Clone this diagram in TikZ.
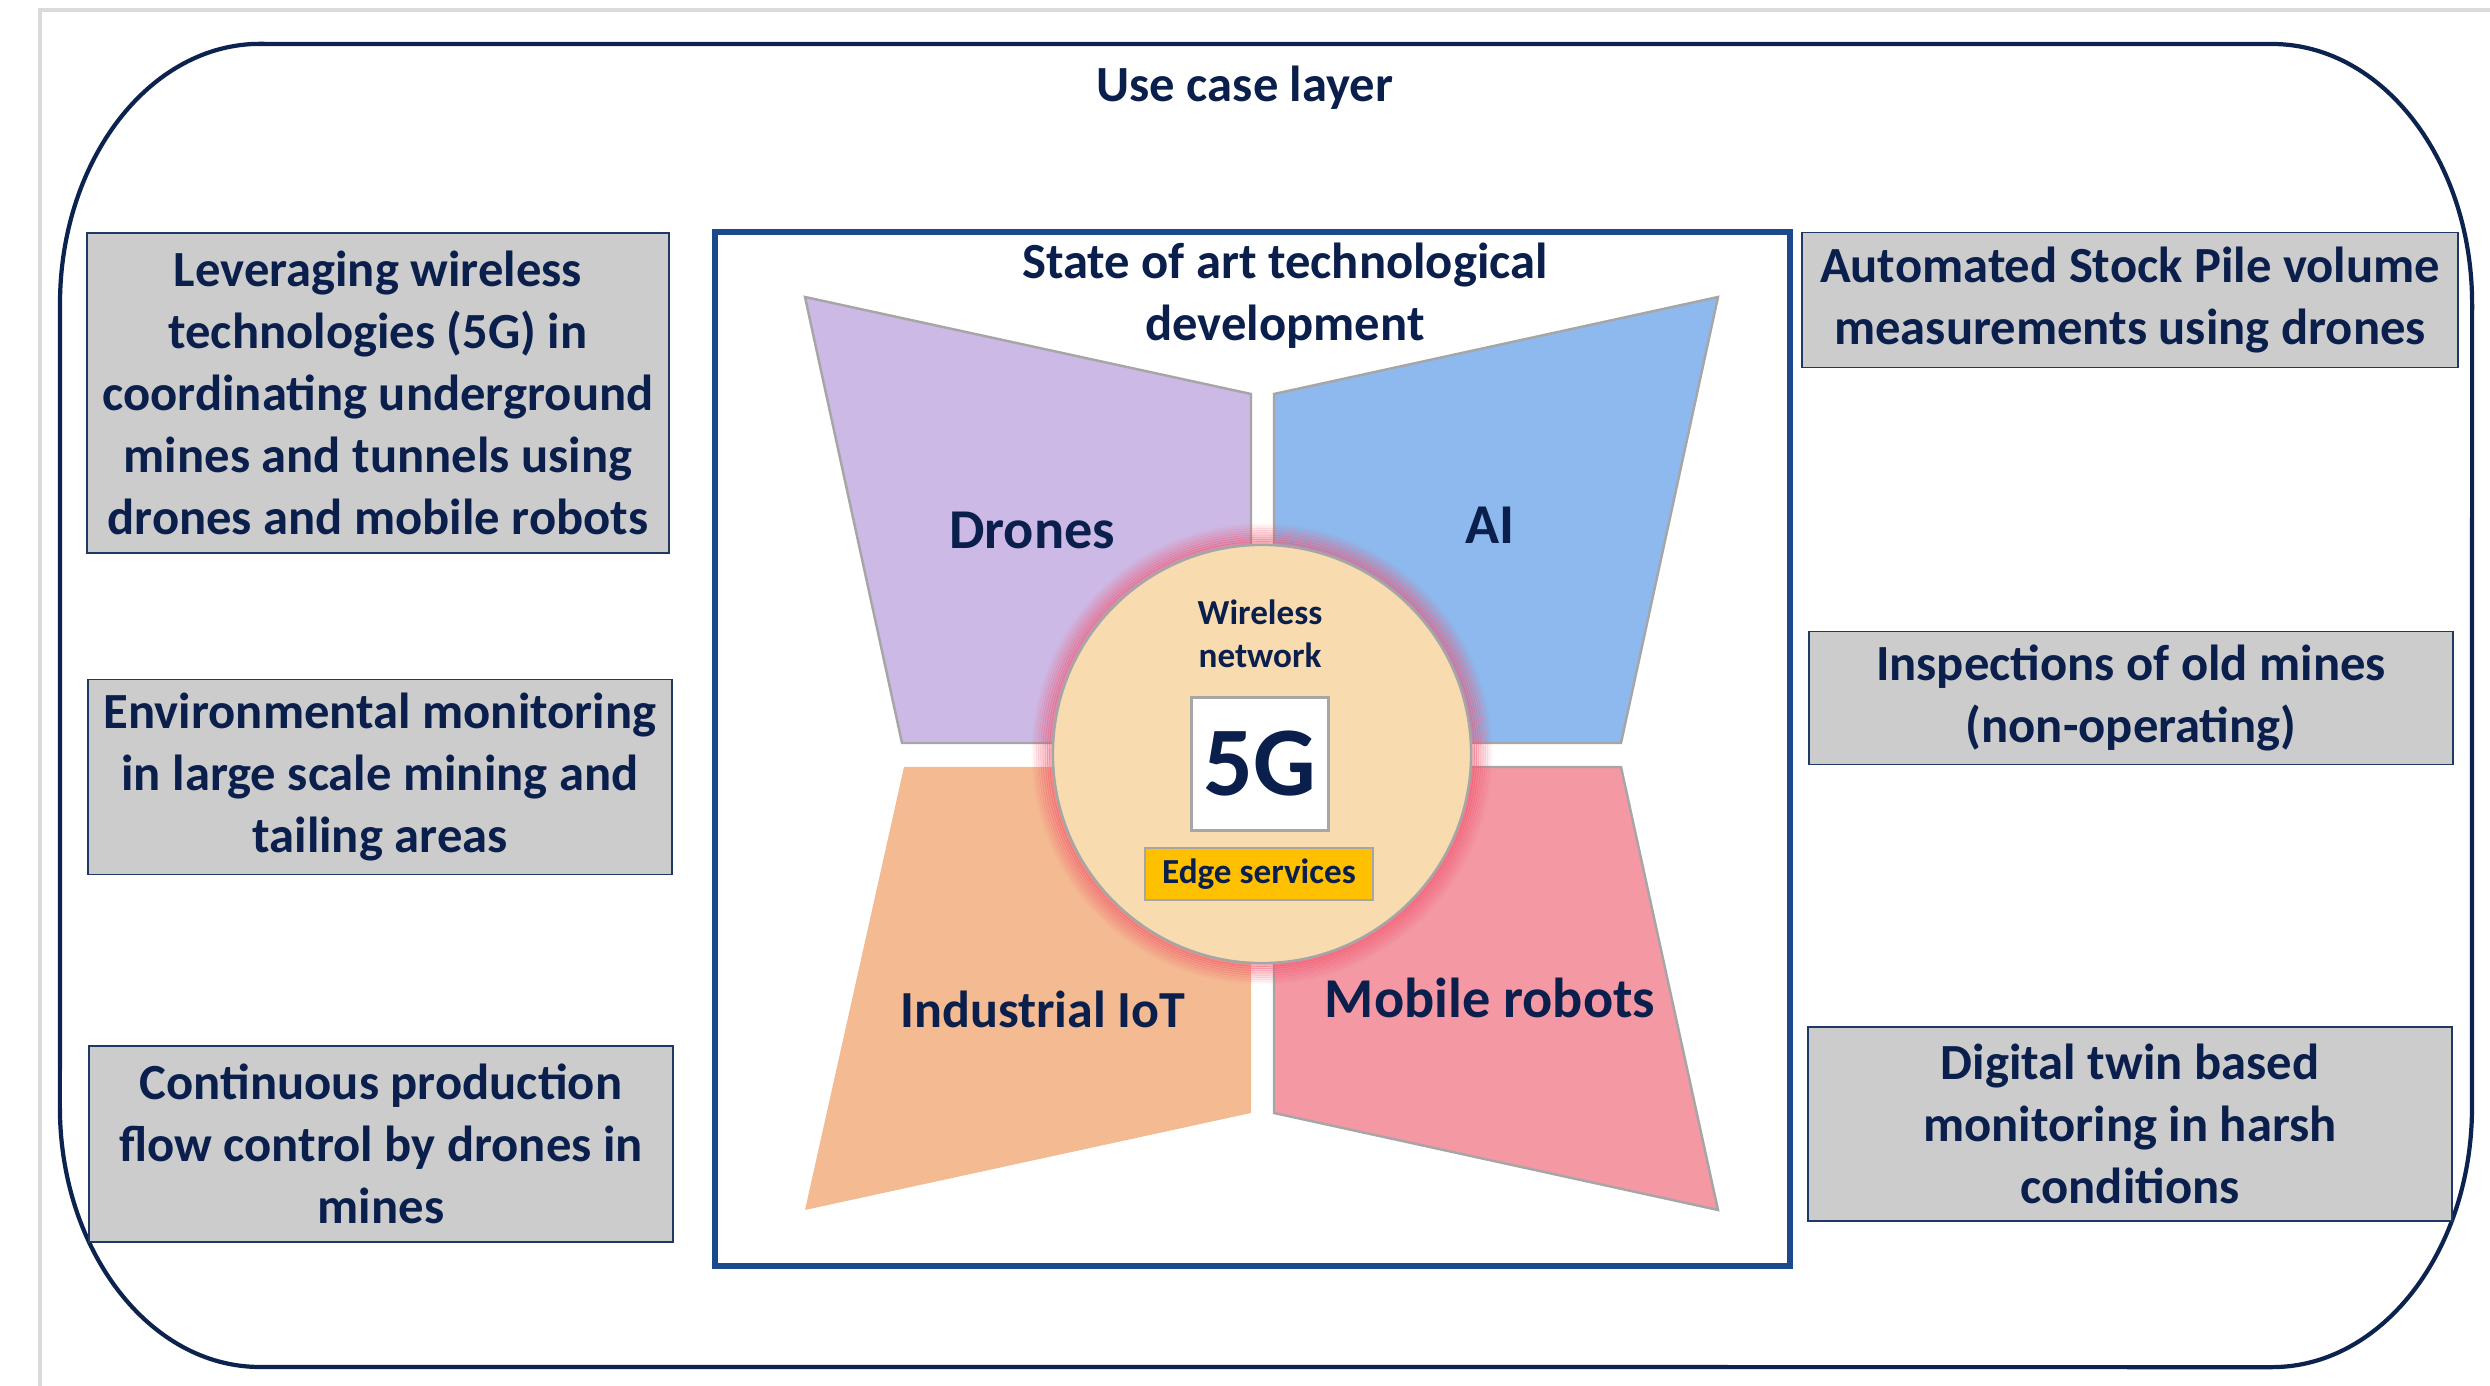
\documentclass[tikz,border=0pt]{standalone}
\usepackage{fontspec}
\setmainfont{Carlito}

\definecolor{txtnavy}{HTML}{0B1F4D}
\definecolor{layernavy}{HTML}{0C2350}
\definecolor{frameblue}{HTML}{1B4A8C}
\definecolor{boxline}{HTML}{1F3864}
\definecolor{boxgray}{HTML}{CCCCCC}
\definecolor{pagegray}{HTML}{DADADA}
\definecolor{secline}{HTML}{A6A6A6}
\definecolor{dronepurple}{HTML}{CDB9E5}
\definecolor{aiblue}{HTML}{8DB9EE}
\definecolor{iotorange}{HTML}{F4BA92}
\definecolor{robotpink}{HTML}{F498A4}
\definecolor{netpeach}{HTML}{F8DCB0}
\definecolor{edgeyellow}{HTML}{FFC000}
\definecolor{glowred}{HTML}{F2506A}

\begin{document}
\begin{tikzpicture}[x=0.01cm,y=-0.01cm]

\tikzset{%
    usecase/.style={draw=boxline,line width=0.5pt,fill=boxgray,text=txtnavy,align=center,inner sep=0pt,
        font=\bfseries\fontsize{14.4}{17.6}\selectfont},
    heading/.style={text=txtnavy,align=center,font=\bfseries\fontsize{14.4}{17.6}\selectfont},
    sector/.style={draw=secline,line width=0.7pt},
    seclabel/.style={text=txtnavy,font=\bfseries\fontsize{16}{19}\selectfont},
    netlabel/.style={text=txtnavy,align=center,font=\bfseries\fontsize{10}{12.2}\selectfont},
}

\def\cx{1262}
\def\cy{754}

% page
\useasboundingbox (0,0) rectangle (2490,1386);
\draw [pagegray, line width=1.4pt] (40,1386) -- (40,10) -- (2490,10);

% use case layer
\draw [layernavy, line width=1.2pt] (260,44) -- (2272,44)
    arc [x radius=2cm, y radius=2.6cm, start angle=90, end angle=0] -- (2472,1107)
    arc [x radius=2cm, y radius=2.6cm, start angle=0, end angle=-90] -- (260,1367)
    arc [x radius=2cm, y radius=2.6cm, start angle=-90, end angle=-180] -- (60,304)
    arc [x radius=2cm, y radius=2.6cm, start angle=180, end angle=90] -- cycle;
\node [heading] (layer) at (1245,88) {Use case layer};

% left column
\node [usecase, minimum width=5.82cm, minimum height=3.2cm] (leverage) at (378,393)
    {Leveraging wireless\\technologies (5G) in\\coordinating underground\\mines and tunnels using\\drones and mobile robots};
\node [usecase, minimum width=5.83cm, minimum height=1.95cm] (environment) at (380,777)
    {Environmental monitoring\\in large scale mining and\\tailing areas};
\node [usecase, minimum width=5.83cm, minimum height=1.96cm] (production) at (381,1144)
    {Continuous production\\flow control by drones in\\mines};

% right column
\node [usecase, minimum width=6.56cm, minimum height=1.35cm] (stockpile) at (2130,300)
    {Automated Stock Pile volume\\measurements using drones};
\node [usecase, minimum width=6.43cm, minimum height=1.33cm] (inspection) at (2131,698)
    {Inspections of old mines\\(non-operating)};
\node [usecase, minimum width=6.43cm, minimum height=1.94cm] (twin) at (2130,1124)
    {Digital twin based\\monitoring in harsh\\conditions};

% technology frame
\draw [frameblue, line width=1.5pt] (715,232) rectangle (1790,1266);
\node [heading] (state) at (1285,296) {State of art technological\\development};

% sectors
\draw [sector, fill=dronepurple] (805,297) -- (1251,394) -- (1251,743) -- (902,743) -- cycle;
\draw [sector, fill=aiblue] (1274,394) -- (1718,297) -- (1621,743) -- (1274,743) -- cycle;
\fill [iotorange] (904,767) -- (1251,767) -- (1251,1113) -- (805,1210) -- cycle;
\draw [sector, fill=robotpink] (1274,767) -- (1621,767) -- (1718,1210) -- (1274,1113) -- cycle;

\node [seclabel] (drones) at (1032,530) {Drones};
\node [seclabel] (ai) at (1490,525) {AI};
\node [seclabel, font=\bfseries\fontsize{14.8}{18}\selectfont] (iot) at (1043,1009) {Industrial IoT};
\node [seclabel] (robots) at (1490,998) {Mobile robots};

% glow round the network
\foreach \k in {1,...,9}
    \draw [glowred, line width=0.03cm, opacity={0.5-0.05*\k}] (\cx,\cy) circle [radius={2.09cm+\k*0.022cm}];

% wireless network
\node [circle, draw=secline, line width=0.7pt, fill=netpeach, minimum size=4.18cm, inner sep=0pt] (net) at (\cx,\cy) {};
\node [netlabel] (wireless) at (1260,634) {Wireless\\network};
\node [draw=secline, line width=0.8pt, fill=white, minimum width=1.37cm, minimum height=1.33cm, inner sep=0pt,
    text=txtnavy, font=\bfseries\fontsize{28}{30}\selectfont] (fiveg) at (1260,764) {5G};
\node [netlabel, draw=secline, line width=0.8pt, fill=edgeyellow, minimum width=2.28cm, minimum height=0.52cm, inner sep=0pt]
    (edge) at (1259,874) {Edge services};

\end{tikzpicture}
\end{document}
